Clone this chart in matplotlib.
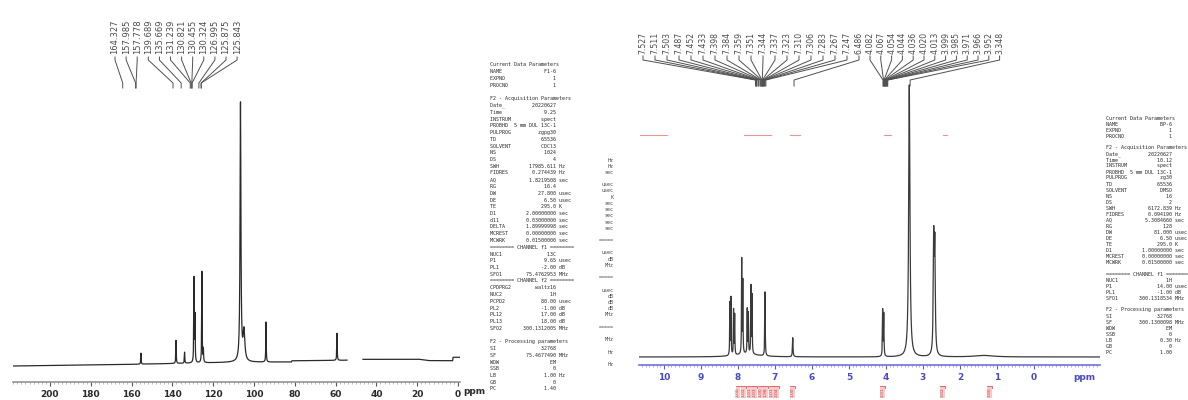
import numpy as np
import matplotlib
matplotlib.use("Agg")
import matplotlib.pyplot as plt
from matplotlib.ticker import MultipleLocator, FixedLocator

W, H = 1188, 400

# ---------------- 13C spectrum (left) ----------------
c13_peak_ppm    = [155.4, 138.2, 134.0, 129.4, 128.9, 125.5, 124.8, 106.6, 104.9, 94.1, 59.3]
c13_peak_height = [11, 23, 11, 84, 46, 91, 13, 258, 30, 40, 27]
c13_peak_width  = [0.12, 0.12, 0.12, 0.12, 0.12, 0.12, 0.12, 0.25, 0.5, 0.12, 0.12]
c13_base_ppm = [-1.0, 2.4, 2.6, 3.9, 13.7, 18.6, 46.0, 56.0, 81.4, 81.6, 110.0, 159.0, 218.1]
c13_base_val = [8.7, 8.7, 5.3, 5.3, 5.3, 6.7, 6.7, 5.7, 5.3, 4.0, 3.7, 1.7, 0.0]
c13_gap = [46.6, 54.4]
c13_ticks = [200, 180, 160, 140, 120, 100, 80, 60, 40, 20, 0]
c13_labels = ["164.327", "157.985", "157.778", "139.689", "135.669", "131.239",
              "130.821", "130.455", "130.324", "126.995", "125.875", "125.843"]

# ---------------- 1H spectrum (right) ----------------
h1_peak_ppm    = [8.22, 8.19, 8.12, 8.09, 7.90, 7.87, 7.75, 7.72, 7.65, 7.62, 7.27,
                  6.52, 4.09, 4.06, 3.37, 2.71, 2.68, 7.75, 1.35]
h1_peak_height = [52, 57, 45, 40, 94, 72, 44, 40, 67, 58, 64,
                  19, 46, 42, 272, 112, 104, 3, 1.5]
h1_peak_width  = [0.006, 0.006, 0.006, 0.006, 0.006, 0.006, 0.006, 0.006, 0.006, 0.006, 0.007,
                  0.009, 0.007, 0.007, 0.02, 0.014, 0.014, 0.35, 0.3]
h1_ticks = [10, 9, 8, 7, 6, 5, 4, 3, 2, 1, 0]
h1_labels_a = ["7.527", "7.511", "7.503", "7.487", "7.452", "7.433", "7.398", "7.384",
               "7.359", "7.351", "7.344", "7.337", "7.323", "7.310", "7.306", "7.283",
               "7.267", "7.247", "6.486"]
h1_labels_b = ["4.082", "4.067", "4.054", "4.044", "4.036", "4.020", "4.013", "3.999",
               "3.985", "3.971", "3.966", "3.952", "3.348"]
h1_integral_regions = [(10.65, 9.92), (7.85, 7.12), (6.60, 6.33), (4.06, 3.87), (2.46, 2.35)]
h1_integral_ppm = [8.00, 7.85, 7.70, 7.55, 7.40, 7.25, 7.10, 6.95, 6.52, 4.10, 2.48, 1.21]
h1_integral_val = ["2.00", "1.02", "1.01", "2.03", "1.00", "1.98", "1.01", "2.04",
                   "1.00", "2.01", "3.02", "3.00"]

c13_params = [
    ("Current Data Parameters", "", ""), ("NAME", "F1-6", ""), ("EXPNO", "1", ""),
    ("PROCNO", "1", ""), ("", "", ""),
    ("F2 - Acquisition Parameters", "", ""), ("Date_", "20220627", ""), ("Time", "9.25", ""),
    ("INSTRUM", "spect", ""), ("PROBHD", "5 mm DUL 13C-1", ""), ("PULPROG", "zgpg30", ""),
    ("TD", "65536", ""), ("SOLVENT", "CDCl3", ""), ("NS", "1024", ""), ("DS", "4", ""),
    ("SWH", "17985.611", "Hz"), ("FIDRES", "0.274439", "Hz"), ("AQ", "1.8219508", "sec"),
    ("RG", "16.4", ""), ("DW", "27.800", "usec"), ("DE", "6.50", "usec"),
    ("TE", "295.0", "K"), ("D1", "2.00000000", "sec"), ("d11", "0.03000000", "sec"),
    ("DELTA", "1.89999998", "sec"), ("MCREST", "0.00000000", "sec"),
    ("MCWRK", "0.01500000", "sec"),
    ("======== CHANNEL f1 ========", "", ""), ("NUC1", "13C", ""), ("P1", "9.65", "usec"),
    ("PL1", "-2.00", "dB"), ("SFO1", "75.4762953", "MHz"),
    ("======== CHANNEL f2 ========", "", ""), ("CPDPRG2", "waltz16", ""), ("NUC2", "1H", ""),
    ("PCPD2", "80.00", "usec"), ("PL2", "-1.00", "dB"), ("PL12", "17.00", "dB"),
    ("PL13", "18.00", "dB"), ("SFO2", "300.1312005", "MHz"), ("", "", ""),
    ("F2 - Processing parameters", "", ""), ("SI", "32768", ""), ("SF", "75.4677490", "MHz"),
    ("WDW", "EM", ""), ("SSB", "0", ""), ("LB", "1.00", "Hz"), ("GB", "0", ""), ("PC", "1.40", ""),
]
h1_params = [
    ("Current Data Parameters", "", ""), ("NAME", "BP-6", ""), ("EXPNO", "1", ""),
    ("PROCNO", "1", ""), ("", "", ""),
    ("F2 - Acquisition Parameters", "", ""), ("Date_", "20220627", ""), ("Time", "10.12", ""),
    ("INSTRUM", "spect", ""), ("PROBHD", "5 mm DUL 13C-1", ""), ("PULPROG", "zg30", ""),
    ("TD", "65536", ""), ("SOLVENT", "DMSO", ""), ("NS", "16", ""), ("DS", "2", ""),
    ("SWH", "6172.839", "Hz"), ("FIDRES", "0.094190", "Hz"), ("AQ", "5.3084660", "sec"),
    ("RG", "128", ""), ("DW", "81.000", "usec"), ("DE", "6.50", "usec"),
    ("TE", "295.0", "K"), ("D1", "1.00000000", "sec"), ("MCREST", "0.00000000", "sec"),
    ("MCWRK", "0.01500000", "sec"), ("", "", ""),
    ("======== CHANNEL f1 ========", "", ""), ("NUC1", "1H", ""), ("P1", "14.00", "usec"),
    ("PL1", "-1.00", "dB"), ("SFO1", "300.1318534", "MHz"), ("", "", ""),
    ("F2 - Processing parameters", "", ""), ("SI", "32768", ""), ("SF", "300.1300098", "MHz"),
    ("WDW", "EM", ""), ("SSB", "0", ""), ("LB", "0.30", "Hz"), ("GB", "0", ""), ("PC", "1.00", ""),
]
frag_lines = ["Hz", "Hz", "sec", "", "usec", "usec", "K", "sec", "sec", "sec", "sec", "sec",
              "", "=====", "", "usec", "dB", "MHz", "", "=====", "", "usec", "dB", "dB",
              "dB", "MHz", "", "=====", "", "MHz", "", "Hz", "", "Hz"]


def fmt(rows):
    out = []
    for k, v, u in rows:
        if v == "" and u == "":
            out.append(k)
        else:
            out.append(f"{k:<8}{v:>14} {u}".rstrip())
    return out


def lorentz_sum(x, pos, hts, wid):
    y = np.zeros_like(x)
    for p, h, w in zip(pos, hts, wid):
        y += h / (1.0 + ((x - p) / w) ** 2)
    return y


fig = plt.figure(figsize=(W / 100, H / 100), dpi=100)
fig.patch.set_facecolor("white")


def rect(x0, y0, x1, y1):
    return [x0 / W, 1 - y1 / H, (x1 - x0) / W, (y1 - y0) / H]


# ---- 13C axes ----
axC = fig.add_axes(rect(13, 60, 460, 382))
axC.set_xlim(218.1, -0.98)
axC.set_ylim(-16, 306)
xc = np.arange(-0.98, 218.1, 0.02)
yc = np.interp(xc, c13_base_ppm, c13_base_val) + lorentz_sum(xc, c13_peak_ppm, c13_peak_height, c13_peak_width)
yc[(xc > c13_gap[0]) & (xc < c13_gap[1])] = np.nan
axC.plot(xc, yc, color="#2a2a2a", lw=0.9)
for s in ["top", "left", "right"]:
    axC.spines[s].set_visible(False)
axC.spines["bottom"].set_color("#8a8a8a")
axC.spines["bottom"].set_linewidth(1.1)
axC.set_yticks([])
axC.xaxis.set_major_locator(FixedLocator(c13_ticks))
axC.xaxis.set_minor_locator(MultipleLocator(2))
axC.tick_params(axis="x", which="major", length=3, width=0.8, color="#555555",
                labelsize=6.5, labelcolor="#2a2a2a", pad=3, direction="out")
axC.tick_params(axis="x", which="minor", length=1.3, width=0.5, color="#a0a0a0", direction="out")
for t in axC.get_xticklabels():
    t.set_fontweight("bold")
axC.patch.set_alpha(0)

# ---- 1H axes ----
axH = fig.add_axes(rect(639, 60, 1100, 365))
axH.set_xlim(10.676, -1.784)
axH.set_ylim(-8, 297)
xh = np.arange(-1.784, 10.676, 0.001)
yh = lorentz_sum(xh, h1_peak_ppm, h1_peak_height, h1_peak_width)
axH.plot(xh, yh, color="#3a3a3a", lw=0.9)
for s in ["top", "left", "right"]:
    axH.spines[s].set_visible(False)
axH.spines["bottom"].set_color("#7070e0")
axH.spines["bottom"].set_linewidth(1.2)
axH.set_yticks([])
axH.xaxis.set_major_locator(FixedLocator(h1_ticks))
axH.xaxis.set_minor_locator(MultipleLocator(0.1))
axH.tick_params(axis="x", which="major", length=3, width=0.8, color="#5a5ad8",
                labelsize=6.5, labelcolor="#4848c8", pad=3, direction="out")
axH.tick_params(axis="x", which="minor", length=1.5, width=0.5, color="#8888e4", direction="out")
for t in axH.get_xticklabels():
    t.set_fontweight("bold")
for a, b in h1_integral_regions:
    axH.plot([a, b], [222, 222], color="#e06a6a", lw=0.8, alpha=0.7)
axH.patch.set_alpha(0)

# ---- overlay in pixel coordinates ----
ov = fig.add_axes([0, 0, 1, 1], zorder=5)
ov.set_xlim(0, W)
ov.set_ylim(H, 0)
ov.axis("off")
ov.patch.set_alpha(0)
inv = ov.transData.inverted()


def px(ax, ppm, val=0.0):
    return inv.transform(ax.transData.transform((ppm, val)))


ov.text(474, 392, "ppm", fontsize=6.5, fontweight="bold", color="#2a2a2a", ha="center", va="center")
ov.text(1084, 377, "ppm", fontsize=6.5, fontweight="bold", color="#4848c8", ha="center", va="center")

# 13C peak labels and connectors
for i, lab in enumerate(c13_labels):
    xl = 115 + i * 11.1
    xp = px(axC, float(lab))[0]
    ov.text(xl, 54, lab, rotation=90, fontsize=6.0, color="#4a4a4a", ha="center", va="bottom")
    ov.plot([xl, xl, xp, xp], [57, 60, 83, 88], color="#505050", lw=0.7)

# 1H peak labels and connectors
for i, lab in enumerate(h1_labels_a):
    xl = 643 + i * 12.0
    xp = px(axH, float(lab))[0]
    ov.text(xl, 54, lab, rotation=90, fontsize=5.6, color="#4a4a4a", ha="center", va="bottom")
    ov.plot([xl, xl, xp, xp], [56, 60, 80, 86], color="#505050", lw=0.7)
for i, lab in enumerate(h1_labels_b):
    xl = 870 + i * 10.8
    xp = px(axH, float(lab))[0]
    ov.text(xl, 54, lab, rotation=90, fontsize=5.6, color="#4a4a4a", ha="center", va="bottom")
    ov.plot([xl, xl, xp, xp], [56, 60, 80, 86], color="#505050", lw=0.7)

# integration labels (red)
for p, v in zip(h1_integral_ppm, h1_integral_val):
    x = px(axH, p)[0]
    ov.plot([x - 2.5, x - 2.5, x + 2.5, x + 2.5], [388, 385.5, 385.5, 388], color="#e05050", lw=0.6)
    ov.text(x, 387.5, v, rotation=90, fontsize=3.2, color="#d83c3c", ha="center", va="top",
            bbox=dict(boxstyle="square,pad=0.1", fc="#f6caca", ec="none"))

# parameter blocks
for i, line in enumerate(fmt(c13_params)):
    ov.text(490, 65 + i * 6.75, line, fontsize=3.6, family="DejaVu Sans Mono", color="#2a2a2a",
            ha="left", va="center")
for i, line in enumerate(fmt(h1_params)):
    ov.text(1106, 118 + i * 6.0, line, fontsize=3.6, family="DejaVu Sans Mono", color="#2a2a2a",
            ha="left", va="center")
for i, line in enumerate(frag_lines):
    ov.text(614, 160 + i * 6.2, line, fontsize=3.6, family="DejaVu Sans Mono", color="#444444",
            ha="right", va="center")

fig.savefig("out.png", dpi=100, facecolor="white")
